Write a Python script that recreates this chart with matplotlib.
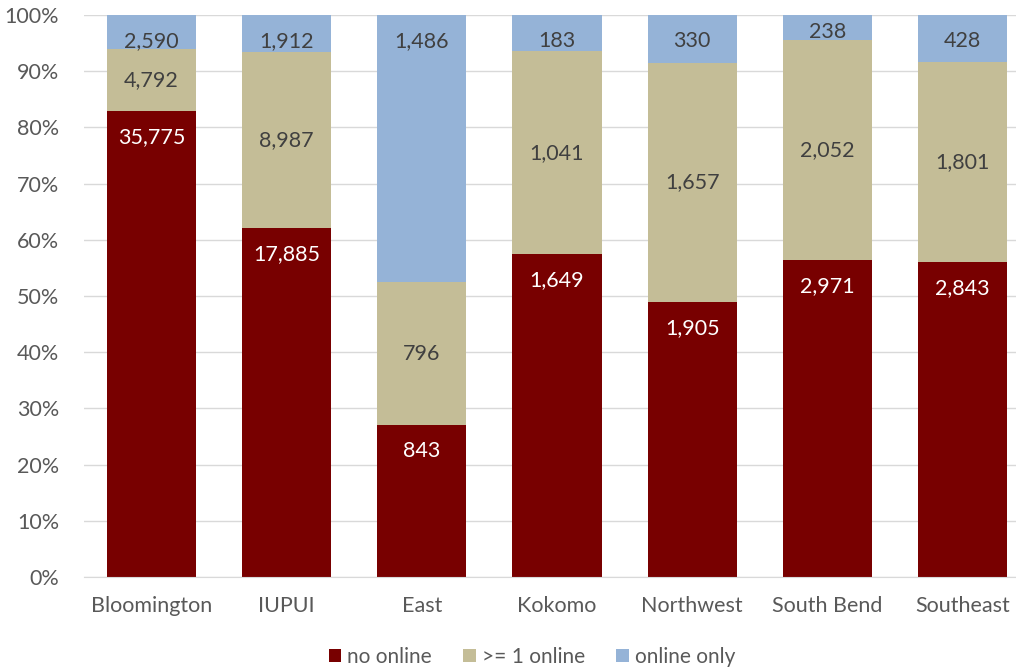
import matplotlib.pyplot as plt
import numpy as np

plt.rcParams['font.family'] = ['Lato', 'DejaVu Sans']

campuses = ['Bloomington', 'IUPUI', 'East', 'Kokomo', 'Northwest', 'South Bend', 'Southeast']
no_online = [35775, 17885, 843, 1649, 1905, 2971, 2843]
one_plus_online = [4792, 8987, 796, 1041, 1657, 2052, 1801]
online_only = [2590, 1912, 1486, 183, 330, 238, 428]

# name, values, colour, label colour, label placement
series = [('no online', no_online, '#780000', 'white', 'end'),
          ('>= 1 online', one_plus_online, '#C4BD97', '#404040', 'center'),
          ('online only', online_only, '#95B3D7', '#404040', 'end')]

totals = np.array(no_online) + np.array(one_plus_online) + np.array(online_only)
x = np.arange(len(campuses))

fig = plt.figure(figsize=(10.16, 6.68), dpi=100)
ax = fig.add_axes([84 / 1016, 91 / 668, 946 / 1016, 562 / 668])

px = 100 / 562  # one pixel in data units
bottom = np.zeros(len(campuses))
for name, vals, color, tcolor, place in series:
    share = np.array(vals) / totals * 100
    ax.bar(x, share, bottom=bottom, width=0.66, color=color, label=name, zorder=2)
    for xi, b, s, v in zip(x, bottom, share, vals):
        if place == 'end':
            y = max(b + s - 26 * px, b + 8 * px)
        else:
            y = b + s / 2
        ax.text(xi, y, f'{v:,}', ha='center', va='center',
                color=tcolor, fontsize=15.5, zorder=3)
    bottom += share

ax.set_xlim(-0.5, len(campuses) - 0.5)
ax.set_ylim(0, 100)
ax.set_xticks(x)
ax.set_xticklabels(campuses, fontsize=15.5, color='#595959')
ax.set_yticks(range(0, 101, 10))
ax.set_yticklabels([f'{v}%' for v in range(0, 101, 10)], fontsize=15.5, color='#595959')
ax.tick_params(axis='y', length=0, pad=18)
ax.tick_params(axis='x', length=0, pad=14)
ax.yaxis.grid(True, color='#D9D9D9', linewidth=1, zorder=0)
for s in ['top', 'right', 'left']:
    ax.spines[s].set_visible(False)
ax.spines['bottom'].set_color('#D9D9D9')

ax.legend(loc='center', bbox_to_anchor=(0.4736, -0.142), ncol=3, frameon=False,
          fontsize=15, handlelength=0.6, handleheight=0.6, handletextpad=0.3,
          columnspacing=1.5, labelcolor='#595959', borderpad=0)

fig.savefig('out.png', dpi=100)
